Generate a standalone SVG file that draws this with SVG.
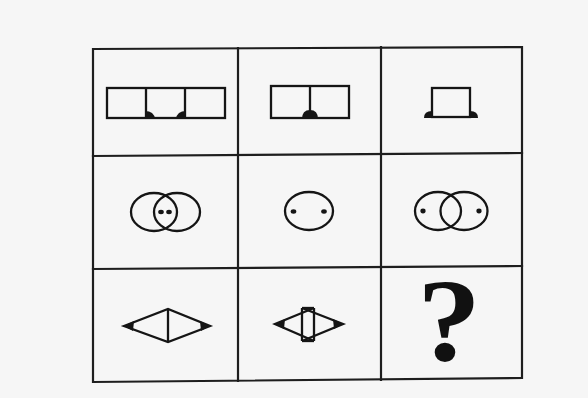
<svg xmlns="http://www.w3.org/2000/svg" width="588" height="398" viewBox="0 0 588 398">
<style>
.grid{stroke:#1e1e1e;stroke-width:2.2;fill:none;stroke-linecap:square}
.sh{stroke:#151515;stroke-width:2.3;fill:none}
.fill{fill:#151515;stroke:none}
.q{font-family:'Liberation Serif','Times New Roman',serif;font-size:118px;font-weight:bold;fill:#111}
</style>
<rect x="0" y="0" width="588" height="398" fill="#f6f6f6"/>
<g id="grid">
<polygon class="grid" points="93,49 522,47 522,378 93,382"/>
<line class="grid" x1="93" y1="156" x2="522" y2="153"/>
<line class="grid" x1="93" y1="269" x2="522" y2="266"/>
<line class="grid" x1="238" y1="48" x2="238" y2="381"/>
<line class="grid" x1="381" y1="47" x2="381" y2="380"/>
</g>
<g id="cell-1-1">
<rect class="sh" x="107" y="88" width="118" height="30"/>
<line class="sh" x1="146" y1="88" x2="146" y2="118"/>
<line class="sh" x1="185" y1="88" x2="185" y2="118"/>
<path class="fill" d="M145,119 L145,111 Q154,111 155,119 Z"/>
<path class="fill" d="M186,119 L186,111 Q177,111 176,119 Z"/>
</g>
<g id="cell-1-2">
<rect class="sh" x="271" y="86" width="78" height="32"/>
<line class="sh" x1="310" y1="86" x2="310" y2="118"/>
<path class="fill" d="M302,119 Q302,110 310,110 Q318,110 318,119 Z"/>
</g>
<g id="cell-1-3">
<rect class="sh" x="432" y="88" width="38" height="29"/>
<path class="fill" d="M424,118 Q424,111 432,111 L432,118 Z"/>
<path class="fill" d="M478,118 Q478,111 470,111 L470,118 Z"/>
</g>
<g id="cell-2-1">
<ellipse class="sh" cx="154" cy="212" rx="23" ry="19"/>
<ellipse class="sh" cx="177" cy="212" rx="23" ry="19"/>
<ellipse class="fill" cx="161" cy="212" rx="2.8" ry="2.2"/>
<ellipse class="fill" cx="169" cy="212" rx="2.8" ry="2.2"/>
</g>
<g id="cell-2-2">
<ellipse class="sh" cx="309" cy="211" rx="24" ry="19"/>
<ellipse class="fill" cx="293.5" cy="211.5" rx="2.8" ry="2.2"/>
<ellipse class="fill" cx="324" cy="211.5" rx="2.8" ry="2.2"/>
</g>
<g id="cell-2-3">
<ellipse class="sh" cx="438" cy="211" rx="23" ry="19"/>
<ellipse class="sh" cx="464" cy="211" rx="23.5" ry="19"/>
<ellipse class="fill" cx="423" cy="211" rx="2.6" ry="2.4"/>
<ellipse class="fill" cx="479" cy="211" rx="2.6" ry="2.4"/>
</g>
<g id="cell-3-1">
<polygon class="sh" points="124,326 168,309 210,326 168,342"/>
<line class="sh" x1="168" y1="309" x2="168" y2="342"/>
<polygon class="fill" points="124,326 134,321 133,331"/>
<polygon class="fill" points="210,326 200,321 201,331"/>
</g>
<g id="cell-3-2">
<polyline class="sh" points="314,308 275,324 314,341"/>
<polyline class="sh" points="302,308 343,324 302,341"/>
<line class="sh" x1="302" y1="308" x2="302" y2="341"/>
<line class="sh" x1="314" y1="308" x2="314" y2="341"/>
<line class="sh" x1="302" y1="308" x2="314" y2="308"/>
<line class="sh" x1="302" y1="341" x2="314" y2="341"/>
<polygon class="fill" points="275,324 285,319 284,329"/>
<polygon class="fill" points="343,324 333,319 334,329"/>
</g>
<g id="cell-3-3">
<text class="q" x="0" y="0" text-anchor="middle" transform="translate(449,360) scale(1.08,1)">?</text>
</g>
</svg>
